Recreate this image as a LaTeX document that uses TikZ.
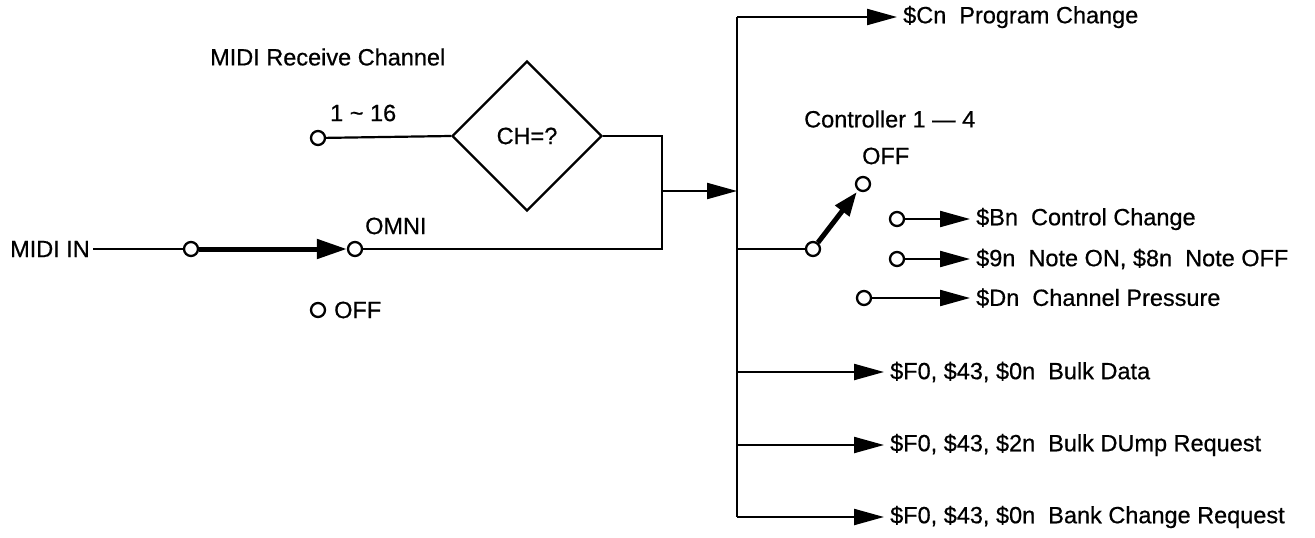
\documentclass[tikz,border=0pt]{standalone}
\usepackage{fontspec}
\setmainfont{Liberation Sans}[FakeBold=0.6]
\usetikzlibrary{shapes.geometric,arrows.meta}
\begin{document}
\begin{tikzpicture}[x=1pt,y=-1pt,
  every node/.style={font=\fontsize{23.5}{28}\selectfont},
  term/.style={circle,draw,line width=2.3pt,minimum size=14pt,inner sep=0pt,fill=white},
  wire/.style={line width=2.2pt},
  arr/.style={wire,-{Triangle[length=30pt,width=16pt]}},
  lbl/.style={anchor=west,inner sep=0pt},
  outlbl/.style={anchor=west,inner ysep=0pt,inner xsep=6pt},
  thickarr/.style={line width=5pt,-{Triangle[length=30pt,width=19pt]}},
  swarr/.style={line width=5pt,-{Triangle[length=24pt,width=17pt]}}]
\useasboundingbox (0,0) rectangle (1315,538);
% left part
\node[lbl] (rcv) at (210,57) {MIDI Receive Channel};
\node[term] (c16) at (318,138) {};
\node[lbl] (t16) at (330,113) {1 \textasciitilde{} 16};
\node[diamond,draw,line width=2.2pt,minimum width=150pt,minimum height=150pt,inner sep=0pt] (dia) at (527,136) {CH=?};
\draw[wire] (c16) -- (dia.west);
\node[anchor=west,inner ysep=0pt,inner xsep=3pt] (midi) at (7,249) {MIDI IN};
\node[term] (cin) at (191,249) {};
\node[term] (omni) at (355,249) {};
\node[lbl] (tomni) at (365,226) {OMNI};
\node[term] (coff) at (318,310) {};
\node[lbl] (toff) at (334,310) {OFF};
\draw[wire] (midi.east) -- (cin);
\draw[thickarr] (cin) -- (omni);
\coordinate (j) at (662,191);
\coordinate (bm) at (737,191);
\draw[wire] (dia.east) -| (j);
\draw[wire] (omni) -| (j);
\draw[arr] (j) -- (bm);
% bus
\coordinate (bt) at (737,17);
\coordinate (bp) at (737,249);
\coordinate (b1) at (737,372);
\coordinate (b2) at (737,445);
\coordinate (bb) at (737,517);
\draw[wire] (bt) -- (bb);
\node[outlbl] (prog) at (897,17) {\$Cn\ \ Program Change};
\draw[arr] (bt) -- (prog.west);
% controller switch
\node[lbl] (ctl) at (804,119) {Controller 1 --- 4};
\node[lbl] (toff2) at (862,156) {OFF};
\node[term] (off2) at (863,184) {};
\node[term] (piv) at (813,249) {};
\draw[wire] (bp) -- (piv);
\draw[swarr,shorten >=2pt] (piv) -- (off2);
\node[term] (bnc) at (897,219) {};
\node[outlbl] (bn) at (970,219) {\$Bn\ \ Control Change};
\draw[arr] (bnc) -- (bn.west);
\node[term] (nc) at (897,259) {};
\node[outlbl] (note) at (970,259) {\$9n\ \ Note ON, \$8n\ \ Note OFF};
\draw[arr] (nc) -- (note.west);
\node[term] (dc) at (864,298) {};
\node[outlbl] (dn) at (970,298) {\$Dn\ \ Channel Pressure};
\draw[arr] (dc) -- (dn.west);
% bulk
\node[outlbl] (bd) at (884,372) {\$F0, \$43, \$0n\ \ Bulk Data};
\draw[arr] (b1) -- (bd.west);
\node[outlbl] (br) at (884,445) {\$F0, \$43, \$2n\ \ Bulk DUmp Request};
\draw[arr] (b2) -- (br.west);
\node[outlbl] (bc) at (884,517) {\$F0, \$43, \$0n\ \ Bank Change Request};
\draw[arr] (bb) -- (bc.west);
\end{tikzpicture}
\end{document}
